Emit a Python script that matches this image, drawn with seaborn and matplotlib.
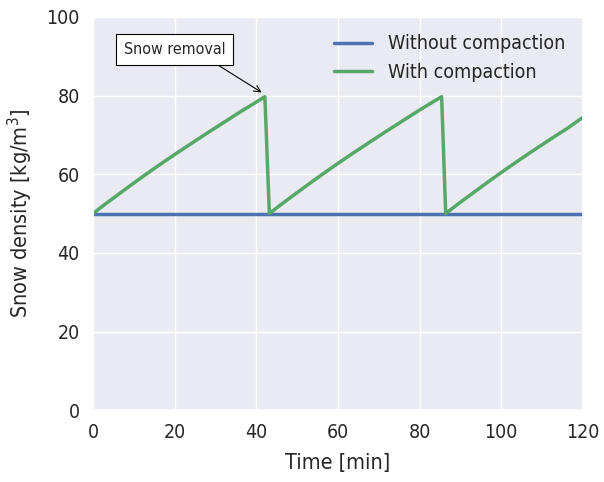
import matplotlib
matplotlib.use("Agg")
import matplotlib.pyplot as plt
import seaborn as sns
import pandas as pd

# Data
t_without = [0, 120]
rho_without = [50, 50]

t_with = [0, 3, 6, 9, 12, 15, 18, 21, 24, 27, 30, 33, 36, 39, 42.1,
          43.2, 46.2, 49.2, 52.2, 55.2, 58.2, 61.2, 64.2, 67.2, 70.2, 73.2,
          76.2, 79.2, 82.2, 85.4,
          86.4, 89.4, 92.4, 95.4, 98.4, 101.4, 104.4, 107.4, 110.4, 113.4,
          116.4, 119.8]
rho_with = [50, 52.4, 54.7, 57.0, 59.25, 61.45, 63.6, 65.7, 67.75, 69.8, 71.8,
            73.8, 75.8, 77.7, 79.7,
            50, 52.4, 54.7, 57.0, 59.25, 61.45, 63.6, 65.7, 67.75, 69.8, 71.8,
            73.8, 75.8, 77.7, 79.7,
            50, 52.4, 54.7, 57.0, 59.25, 61.45, 63.6, 65.7, 67.75, 69.8, 71.8,
            74.3]

labels = ["Without compaction", "With compaction"]
colors = ["#4C72B0", "#55A868"]
xticks = [0, 20, 40, 60, 80, 100, 120]
yticks = [0, 20, 40, 60, 80, 100]

sns.set_theme(style="darkgrid")
plt.rcParams['font.family'] = ['DejaVu Sans']
plt.rcParams['font.stretch'] = 'condensed'

df = pd.concat([
    pd.DataFrame({"t": t_without, "rho": rho_without, "case": labels[0]}),
    pd.DataFrame({"t": t_with, "rho": rho_with, "case": labels[1]}),
])

fig = plt.figure(figsize=(6.04, 4.82), dpi=100)
ax = fig.add_axes([0.154, 0.149, 0.811, 0.816])
sns.lineplot(data=df, x="t", y="rho", hue="case", sort=False,
             estimator=None, lw=2.5, palette=colors, ax=ax)

ax.set_xlim(0, 120)
ax.set_ylim(0, 100)
ax.set_xticks(xticks)
ax.set_yticks(yticks)
ax.tick_params(labelsize=14)
ax.set_xlabel("Time [min]", fontsize=15.5, labelpad=8)
ax.set_ylabel("Snow density [kg/m$^3$]", fontsize=15.5, labelpad=8)

leg = ax.legend(loc="upper right", frameon=False, fontsize=14)
for line in leg.get_lines():
    line.set_linewidth(2.5)

ax.annotate("Snow removal", xy=(41.3, 80.8), xytext=(20, 91.7),
            fontsize=11.5, ha="center", va="center",
            bbox=dict(boxstyle="square,pad=0.5", fc="white", ec="black", lw=0.8),
            arrowprops=dict(arrowstyle="->", color="black", lw=0.8,
                            shrinkA=0, shrinkB=0,
                            relpos=(0.8, 0.0)))

fig.savefig("out.png", dpi=100)
